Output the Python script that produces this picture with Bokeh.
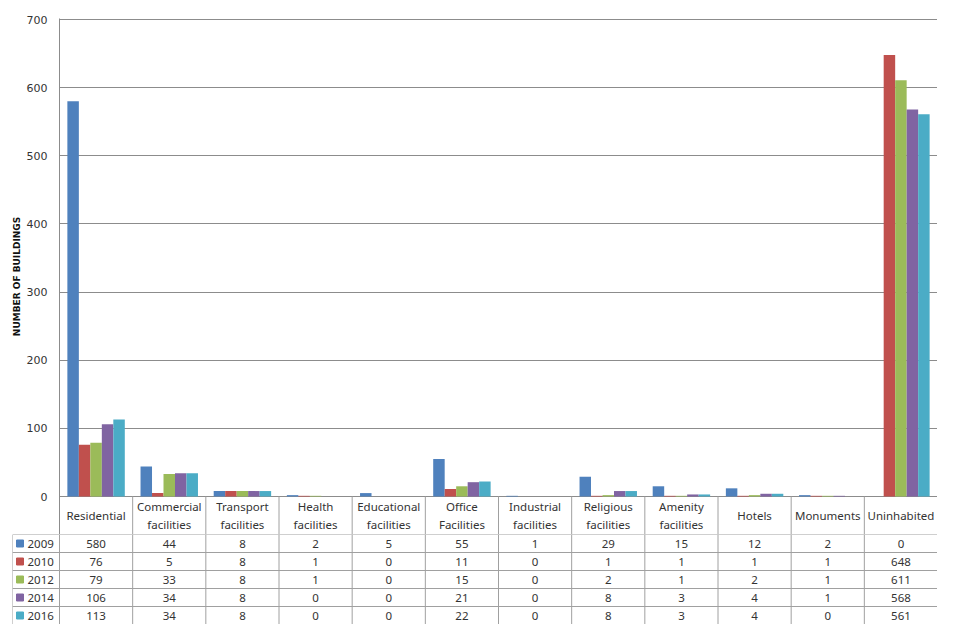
from bokeh.plotting import figure
from bokeh.models import FactorRange, Range1d, ColumnDataSource, FixedTicker
from bokeh.transform import dodge
from bokeh.core.properties import value
from bokeh.embed import file_html
from bokeh.resources import INLINE

categories = ["Residential", "Commercial facilities", "Transport facilities", "Health facilities",
              "Educational facilities", "Office Facilities", "Industrial facilities",
              "Religious facilities", "Amenity facilities", "Hotels", "Monuments", "Uninhabited"]
header_labels = ["Residential", "Commercial\nfacilities", "Transport\nfacilities", "Health\nfacilities",
                 "Educational\nfacilities", "Office\nFacilities", "Industrial\nfacilities",
                 "Religious\nfacilities", "Amenity\nfacilities", "Hotels", "Monuments", "Uninhabited"]
years = ["2009", "2010", "2012", "2014", "2016"]
v2009 = [580, 44, 8, 2, 5, 55, 1, 29, 15, 12, 2, 0]
v2010 = [76, 5, 8, 1, 0, 11, 0, 1, 1, 1, 1, 648]
v2012 = [79, 33, 8, 1, 0, 15, 0, 2, 1, 2, 1, 611]
v2014 = [106, 34, 8, 0, 0, 21, 0, 8, 3, 4, 1, 568]
v2016 = [113, 34, 8, 0, 0, 22, 0, 8, 3, 4, 0, 561]
series = [v2009, v2010, v2012, v2014, v2016]
colors = ["#4F81BD", "#C0504D", "#9BBB59", "#8064A2", "#4BACC6"]
y_ticks = [0, 100, 200, 300, 400, 500, 600, 700]

W = 937
LEFT = 59
PLOT_PX = 477          # pixels from 0 to 700
HDR = 38               # header row height (px)
ROW = 18               # data row height (px)
TOP = 18
GRID = "#8c8c8c"
BORDER = "#a0a0a0"
FONT = "Noto Sans"
TXT = "#333333"

ppu = PLOT_PX / 700.0
hdr_u = HDR / ppu
top_pad_u = 1.0 / ppu
CH = TOP + 1 + PLOT_PX + HDR
TH = ROW * len(years)

data = {"cat": categories, "hdr": header_labels}
for y, s in zip(years, series):
    data["y" + y] = s
src = ColumnDataSource(data)

p = figure(width=W, height=CH, x_range=FactorRange(factors=categories, range_padding=0),
           y_range=Range1d(-hdr_u, 700 + top_pad_u), x_axis_location=None,
           output_backend="svg", toolbar_location=None,
           min_border_left=LEFT, min_border_right=0, min_border_top=TOP, min_border_bottom=0)
p.outline_line_color = None
p.background_fill_color = "white"
bw = 0.157
for i, (y, c) in enumerate(zip(years, colors)):
    p.vbar(x=dodge("cat", (i - 2) * bw, range=p.x_range), top="y" + y, width=bw,
           source=src, fill_color=c, line_color=None)

p.xgrid.grid_line_color = None
p.ygrid.ticker = FixedTicker(ticks=y_ticks)
p.ygrid.grid_line_color = GRID
p.yaxis.ticker = FixedTicker(ticks=y_ticks)
p.yaxis.major_tick_line_color = None
p.yaxis.minor_tick_line_color = None
p.yaxis.axis_line_color = GRID
p.yaxis.major_label_text_font = "DejaVu Sans"
p.yaxis.major_label_text_font_size = "11px"
p.yaxis.major_label_text_color = TXT
p.yaxis.major_label_standoff = 6
p.yaxis.axis_label = "NUMBER OF BUILDINGS"
p.yaxis.axis_label_text_font = "DejaVu Sans"
p.yaxis.axis_label_text_font_size = "9px"
p.yaxis.axis_label_text_font_style = "bold"
p.yaxis.axis_label_text_color = "#111111"
p.yaxis.axis_label_standoff = 2

# header row of the data table (inside the chart frame, below 0)
n = len(categories)
p.segment(x0=dodge("cat", 0.5, range=p.x_range), y0=0, x1=dodge("cat", 0.5, range=p.x_range),
          y1=-hdr_u, source=src, line_color=BORDER, line_width=1)
p.text(x="cat", y=-hdr_u / 2.0, text="hdr", source=src,
       text_align="center", text_baseline="middle", text_font=value(FONT),
       text_font_size="11.5px", text_color=TXT, text_line_height=1.25)

# data rows under the chart
unit = (W - LEFT) / 12.0
TL = 12
leg_w = (LEFT - TL) / unit
t = figure(width=W, height=TH, x_range=Range1d(-leg_w, 12), y_range=Range1d(TH, 0),
           x_axis_location=None, y_axis_location=None,
           output_backend="svg", toolbar_location=None,
           min_border_left=TL, min_border_right=0, min_border_top=0, min_border_bottom=0)
t.outline_line_color = None
t.grid.visible = False

hy = [ROW * r for r in range(len(years) + 1)]
t.segment(x0=[-leg_w] * len(hy), y0=hy, x1=[n] * len(hy), y1=hy, line_color=BORDER, line_width=1)
vx = list(range(n + 1)) + [-leg_w]
t.segment(x0=vx, y0=[0] * len(vx), x1=vx, y1=[TH] * len(vx), line_color=BORDER, line_width=1)

for r, (y, s, c) in enumerate(zip(years, series, colors)):
    yc = ROW * r + ROW / 2.0
    t.text(x=[i + 0.5 for i in range(n)], y=[yc] * n, text=[str(v) for v in s],
           text_align="center", text_baseline="middle", text_font=value(FONT),
           text_font_size="11.5px", text_color=TXT)
    t.scatter(x=[-leg_w + 7.5 / unit], y=[yc], marker="square", size=7,
              fill_color=c, line_color=c)
    t.text(x=[-leg_w + 15 / unit], y=[yc], text=[y], text_align="left",
           text_baseline="middle", text_font=value(FONT), text_font_size="11.5px",
           text_color=TXT)

open("out.html", "w").write(file_html([p, t], INLINE))
